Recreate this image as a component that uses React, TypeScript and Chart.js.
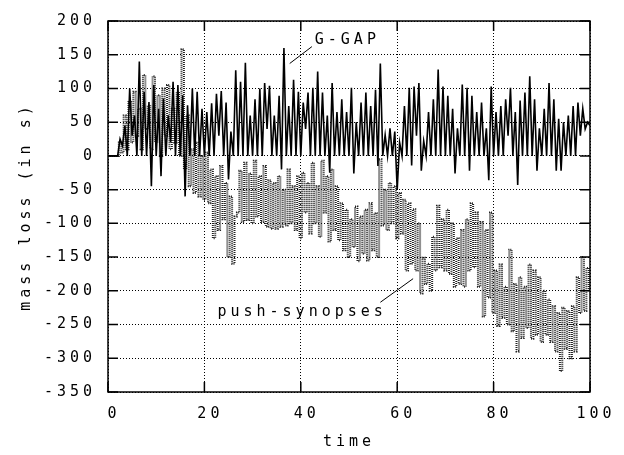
import React, { useEffect, useRef } from "react";
import { Chart, registerables } from "chart.js";

Chart.register(...registerables);

// sample spacing of both series (time units)
const sampleStep = 0.5;

// G-GAP series, samples at t = 0, 0.5, 1, ... 100
const gGap = [
  0, 0, 0, 0, 0, 25, 15, 45, 0, 100,
  30, 60, 0, 140, 0, 95, 0, 80, -45, 105,
  0, 70, -30, 85, 0, 60, 20, 110, 0, 105,
  0, 90, -60, 75, 0, 100, 0, 95, 0, 70,
  0, 65, 0, 78, 0, 92, 30, 96, 0, 79,
  -35, 36, 0, 127, 0, 110, 0, 138, 0, 60,
  0, 84, 0, 100, 0, 108, 40, 104, 0, 60,
  0, 89, -20, 160, 0, 74, 0, 113, 0, 95,
  0, 79, 40, 94, 0, 101, 0, 125, 0, 94,
  0, 60, -25, 108, 0, 65, 0, 84, 0, 65,
  0, 101, -26, 50, 0, 79, 0, 94, 0, 74,
  0, 98, -15, 137, 0, 31, 0, 41, 0, 36,
  -50, 20, 0, 74, 0, 101, -14, 103, 30, 108,
  -22, 22, 0, 65, 0, 84, 0, 128, 0, 103,
  0, 89, 0, 70, -26, 41, 0, 106, 0, 101,
  -22, 89, 0, 65, 0, 79, 0, 41, -36, 103,
  0, 65, 0, 74, 0, 84, 30, 101, 0, 65,
  -43, 82, 0, 94, 0, 118, 0, 84, -22, 41,
  0, 70, 0, 108, 0, 84, -22, 55, -22, 50,
  0, 60, 0, 74, 0, 79, 30, 70, 40, 50,
  45,
];

// push-synopses series, samples at t = 0, 0.5, 1, ... 100
const pushSynopses = [
  0, 0, 0, 0, 0, 20, 5, 60, 10, 80,
  20, 95, 30, 70, 10, 120, 40, 75, 10, 118,
  20, 90, 0, 100, 30, 105, 10, 70, 20, 95,
  0, 158, -20, 60, -45, 10, -55, 20, -60, 0,
  -65, 5, -70, -20, -122, -30, -110, -15, -94, -40,
  -150, -60, -160, -90, -84, -22, -98, -10, -95, -26,
  -100, -7, -90, -30, -98, -15, -105, -36, -108, -40,
  -108, -30, -105, -50, -103, -20, -100, -45, -110, -30,
  -122, -25, -84, -40, -115, -10, -100, -45, -120, -7,
  -84, -30, -127, -20, -110, -45, -125, -70, -140, -80,
  -150, -94, -135, -75, -156, -90, -145, -80, -155, -70,
  -140, -85, -150, -5, -103, -50, -110, -40, -100, -45,
  -122, -55, -115, -65, -170, -70, -160, -79, -170, -100,
  -204, -151, -190, -160, -200, -120, -170, -74, -165, -94,
  -170, -80, -175, -100, -194, -122, -190, -110, -194, -94,
  -170, -70, -165, -84, -194, -98, -238, -110, -210, -84,
  -233, -170, -252, -161, -240, -194, -250, -139, -260, -190,
  -290, -180, -270, -194, -255, -161, -271, -170, -265, -180,
  -276, -200, -265, -213, -276, -223, -290, -233, -319, -225,
  -286, -230, -300, -223, -290, -180, -233, -150, -230, -166,
  -199,
];

const seriesNames = ["G-GAP", "push-synopses"];

// axis ranges and ticks
const xMin = 0, xMax = 100, xStep = 20;
const yMin = -350, yMax = 200, yStep = 50;
const xTitle = "time";
const yTitle = "mass loss (in s)";

// annotation labels (data coordinates)
const labelTexts = ["G-GAP", "push-synopses"];
const labelAt = [[42.9, 172], [22.7, -231]];
const leaderFrom = [[37.7, 137], [56.5, -217]];
const leaderTo = [[42.3, 162], [63.3, -182]];

const FONT = "'DejaVu Sans Mono', monospace";
const SPACING = "4px";

const spacingPlugin = {
  id: "spacing",
  beforeUpdate(chart: any) {
    chart.ctx.letterSpacing = SPACING;
  },
  beforeDraw(chart: any) {
    chart.ctx.letterSpacing = SPACING;
  },
};

const framePlugin = {
  id: "frame",
  afterDatasetsDraw(chart: any) {
    const { ctx, chartArea, scales } = chart;
    const { left, right, top, bottom } = chartArea;
    const xs = scales.x;
    const ys = scales.y;
    const len = 10;
    ctx.save();
    ctx.strokeStyle = "#000";
    ctx.lineWidth = 1.5;
    ctx.setLineDash([]);
    ctx.beginPath();
    ys.ticks.forEach((t: any) => {
      const py = ys.getPixelForValue(t.value);
      ctx.moveTo(left, py);
      ctx.lineTo(left + len, py);
      ctx.moveTo(right, py);
      ctx.lineTo(right - len, py);
    });
    xs.ticks.forEach((t: any) => {
      const px = xs.getPixelForValue(t.value);
      ctx.moveTo(px, bottom);
      ctx.lineTo(px, bottom - len);
      ctx.moveTo(px, top);
      ctx.lineTo(px, top + len);
    });
    ctx.stroke();
    ctx.strokeRect(left, top, right - left, bottom - top);

    // annotations
    ctx.lineWidth = 1;
    ctx.beginPath();
    leaderFrom.forEach((f, i) => {
      const t = leaderTo[i];
      ctx.moveTo(xs.getPixelForValue(f[0]), ys.getPixelForValue(f[1]));
      ctx.lineTo(xs.getPixelForValue(t[0]), ys.getPixelForValue(t[1]));
    });
    ctx.stroke();
    ctx.fillStyle = "#000";
    ctx.font = `15px ${FONT}`;
    ctx.letterSpacing = SPACING;
    ctx.textAlign = "left";
    ctx.textBaseline = "middle";
    labelTexts.forEach((txt, i) => {
      ctx.fillText(txt, xs.getPixelForValue(labelAt[i][0]), ys.getPixelForValue(labelAt[i][1]));
    });
    ctx.restore();
  },
};

export default function App() {
  const ref = useRef<HTMLCanvasElement>(null);
  useEffect(() => {
    if (!ref.current) return;
    const toPoints = (arr: number[]) => arr.map((v, i) => ({ x: i * sampleStep, y: v }));
    const chart = new Chart(ref.current, {
      type: "line",
      data: {
        datasets: [
          {
            label: seriesNames[0],
            data: toPoints(gGap),
            borderColor: "#000",
            borderWidth: 1.6,
            pointRadius: 0,
            tension: 0,
            fill: false,
          },
          {
            label: seriesNames[1],
            data: toPoints(pushSynopses),
            borderColor: "#222",
            borderWidth: 2,
            borderDash: [1, 1],
            pointRadius: 0,
            stepped: "middle",
            fill: false,
          },
        ],
      },
      options: {
        responsive: false,
        animation: false,
        devicePixelRatio: 1,
        layout: { padding: { left: 0, right: 34, top: 14, bottom: 0 } },
        plugins: {
          legend: { display: false },
          tooltip: { enabled: false },
        },
        scales: {
          x: {
            type: "linear",
            min: xMin,
            max: xMax,
            border: { display: false },
            grid: {
              color: "#000",
              lineWidth: 1,
              drawTicks: false,
            },
            ticks: {
              stepSize: xStep,
              color: "#000",
              font: { family: FONT, size: 15 },
              padding: 13,
              labelOffset: 6,
              maxRotation: 0,
            },
            title: {
              display: true,
              text: xTitle,
              color: "#000",
              font: { family: FONT, size: 15 },
              padding: { top: 0, bottom: 4 },
            },
            afterFit: (s: any) => {
              s.height = 63;
            },
          },
          y: {
            type: "linear",
            min: yMin,
            max: yMax,
            border: { display: false },
            grid: {
              color: "#000",
              lineWidth: 1,
              drawTicks: false,
            },
            ticks: {
              stepSize: yStep,
              color: "#000",
              font: { family: FONT, size: 15 },
              padding: 12,
            },
            title: {
              display: true,
              text: yTitle,
              color: "#000",
              font: { family: FONT, size: 15 },
              padding: { top: 17, bottom: 0 },
            },
            afterFit: (s: any) => {
              s.width = 108;
            },
          },
        },
      } as any,
      plugins: [spacingPlugin, framePlugin],
    });
    const xs: any = chart.options.scales!.x;
    const ys: any = chart.options.scales!.y;
    xs.grid.borderDash = [1, 2];
    xs.border.dash = [1, 2];
    ys.border.dash = [1, 2];
    chart.update();
    return () => chart.destroy();
  }, []);
  return (
    <div style={{ position: "absolute", left: 0, top: 0, width: 624, height: 455, background: "#fff" }}>
      <canvas ref={ref} width={624} height={455} style={{ display: "block" }} />
    </div>
  );
}
